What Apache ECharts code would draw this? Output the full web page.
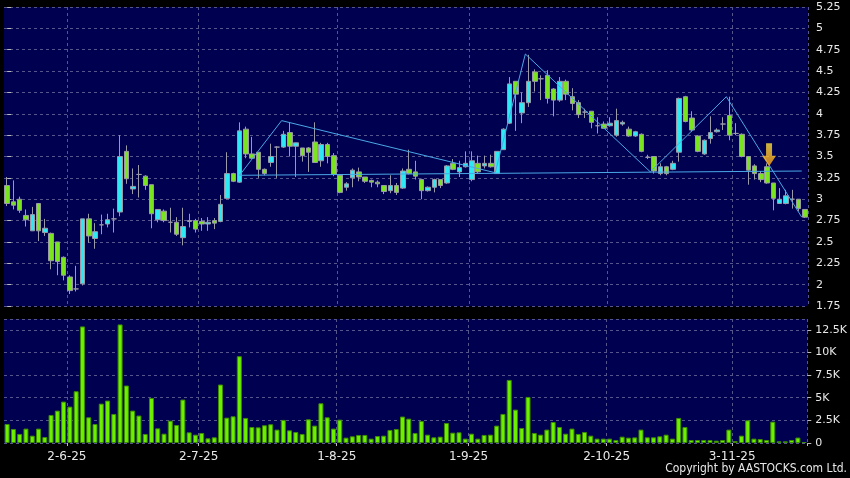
<!DOCTYPE html>
<html>
<head>
<meta charset="utf-8">
<script src="https://cdn.jsdelivr.net/npm/echarts@6/dist/echarts.min.js"></script>
<style>
html,body{margin:0;padding:0;background:#000;}
#chart{width:850px;height:478px;}
</style>
</head>
<body>
<div id="chart"></div>
<script>
// trading dates (d-m-yy)
const dates = [
"19-5-25","20-5-25","21-5-25","22-5-25","23-5-25","26-5-25","27-5-25","28-5-25","29-5-25","30-5-25",
"2-6-25","3-6-25","4-6-25","5-6-25","6-6-25","9-6-25","10-6-25","11-6-25","12-6-25","13-6-25","16-6-25","17-6-25","18-6-25","19-6-25","20-6-25","23-6-25","24-6-25","25-6-25","26-6-25","27-6-25","30-6-25",
"2-7-25","3-7-25","4-7-25","7-7-25","8-7-25","9-7-25","10-7-25","11-7-25","14-7-25","15-7-25","16-7-25","17-7-25","18-7-25","21-7-25","22-7-25","23-7-25","24-7-25","25-7-25","28-7-25","29-7-25","30-7-25","31-7-25",
"1-8-25","4-8-25","5-8-25","6-8-25","7-8-25","8-8-25","11-8-25","12-8-25","13-8-25","14-8-25","15-8-25","18-8-25","19-8-25","20-8-25","21-8-25","22-8-25","25-8-25","26-8-25","27-8-25","28-8-25","29-8-25",
"1-9-25","2-9-25","3-9-25","4-9-25","5-9-25","8-9-25","9-9-25","10-9-25","11-9-25","12-9-25","15-9-25","16-9-25","17-9-25","18-9-25","19-9-25","22-9-25","23-9-25","24-9-25","25-9-25","26-9-25","29-9-25","30-9-25",
"2-10-25","3-10-25","6-10-25","8-10-25","9-10-25","10-10-25","13-10-25","14-10-25","15-10-25","16-10-25","17-10-25","20-10-25","21-10-25","22-10-25","23-10-25","24-10-25","27-10-25","28-10-25","30-10-25","31-10-25",
"3-11-25","4-11-25","5-11-25","6-11-25","7-11-25","10-11-25","11-11-25","12-11-25","13-11-25","14-11-25","17-11-25","18-11-25"
];
const opens = [3.16,2.97,3.00,2.81,2.63,2.95,2.61,2.60,2.50,2.32,2.09,1.95,2.01,2.77,2.54,2.70,2.71,2.77,2.85,3.56,3.12,3.29,
3.27,3.17,2.76,2.86,2.73,2.73,2.55,2.74,2.75,2.74,2.71,2.75,2.74,3.01,3.30,3.20,3.82,3.53,3.55,3.35,3.43,
3.61,3.61,3.78,3.62,3.60,3.60,3.67,3.45,3.64,3.51,3.28,3.14,3.25,3.32,3.26,3.22,3.20,3.16,3.10,3.16,3.13,
3.35,3.32,3.23,3.10,3.14,3.23,3.19,3.42,3.32,3.38,3.23,3.42,3.39,3.42,3.30,3.58,3.89,4.38,4.01,4.13,4.49,
4.41,4.45,4.29,4.16,4.38,4.20,4.13,4.02,4.03,3.86,3.88,3.86,3.75,3.88,3.82,3.74,3.76,3.49,3.50,3.30,3.38,
3.35,3.55,4.20,3.95,3.74,3.53,3.71,3.79,3.88,3.98,3.77,3.76,3.50,3.39,3.30,3.38,3.19,2.95,2.95,3.00,3.00,2.88];
const closes = [2.95,2.93,2.87,2.76,2.82,2.63,2.66,2.28,2.27,2.11,1.93,1.95,2.77,2.57,2.62,2.70,2.76,2.77,3.50,3.24,3.15,3.29,
3.16,2.83,2.88,2.75,2.73,2.59,2.68,2.75,2.65,2.71,2.73,2.72,2.94,3.30,3.21,3.80,3.53,3.48,3.35,3.30,3.50,
3.61,3.76,3.62,3.66,3.51,3.55,3.43,3.64,3.50,3.29,3.08,3.18,3.34,3.26,3.21,3.20,3.18,3.09,3.16,3.08,3.33,
3.30,3.27,3.10,3.14,3.23,3.16,3.39,3.35,3.37,3.42,3.45,3.32,3.42,3.38,3.56,3.82,4.35,4.23,4.13,4.38,4.38,
4.41,4.18,4.16,4.38,4.23,4.12,3.99,4.02,3.90,3.86,3.83,3.89,3.92,3.90,3.74,3.79,3.56,3.49,3.33,3.38,3.30,
3.42,4.18,3.91,3.81,3.56,3.69,3.78,3.81,3.88,3.75,3.77,3.50,3.34,3.30,3.23,3.19,3.01,3.00,3.04,3.00,2.89,2.79];
const lows = [2.92,2.88,2.84,2.68,2.63,2.51,2.57,2.18,2.11,2.05,1.89,1.92,1.99,2.49,2.42,2.59,2.67,2.61,2.80,3.18,3.06,3.02,
3.11,2.66,2.73,2.73,2.61,2.57,2.46,2.67,2.61,2.63,2.63,2.65,2.73,3.00,3.20,3.19,3.48,3.47,3.25,3.28,3.38,
3.25,3.60,3.50,3.26,3.44,3.32,3.43,3.38,3.42,3.27,3.07,3.10,3.14,3.21,3.19,3.14,3.14,3.06,3.07,3.05,3.12,
3.29,3.23,3.00,3.09,3.08,3.13,3.18,3.34,3.26,3.37,3.21,3.30,3.36,3.37,3.30,3.58,3.88,3.80,3.89,4.08,4.26,
4.16,4.12,3.97,4.14,4.16,4.04,3.95,3.95,3.83,3.77,3.83,3.85,3.73,3.86,3.73,3.73,3.55,3.47,3.30,3.28,3.28,
3.34,3.44,3.90,3.79,3.55,3.52,3.65,3.78,3.81,3.69,3.75,3.49,3.17,3.23,3.20,3.18,2.87,2.95,2.94,2.89,2.86,2.78];
const highs = [3.26,3.22,3.03,2.88,2.91,2.95,2.77,2.61,2.50,2.33,2.11,2.22,2.77,2.83,2.72,2.82,2.83,2.89,3.75,3.63,3.36,3.40,
3.28,3.17,2.88,2.88,2.90,2.79,2.90,2.83,2.77,2.78,2.79,2.78,3.05,3.55,3.31,3.90,3.85,3.73,3.55,3.36,3.65,
3.62,3.80,3.90,3.66,3.60,3.61,3.90,3.66,3.66,3.54,3.29,3.20,3.36,3.37,3.26,3.23,3.22,3.16,3.28,3.19,3.36,
3.58,3.45,3.24,3.15,3.24,3.23,3.40,3.47,3.45,3.56,3.56,3.51,3.51,3.52,3.56,3.83,4.43,4.38,4.25,4.69,4.52,
4.45,4.51,4.30,4.43,4.40,4.30,4.16,4.06,4.03,3.96,3.91,3.96,4.06,3.92,3.85,3.80,3.77,3.52,3.50,3.42,3.39,
3.45,4.19,4.21,4.03,3.75,3.70,3.97,3.83,3.96,4.20,3.89,3.77,3.50,3.41,3.33,3.42,3.19,3.13,3.11,3.11,3.00,2.88];
const volumes = [2100,1550,1000,1590,810,1590,660,3100,3580,4575,4020,5720,12880,2840,2100,4350,4690,3210,13100,6350,3580,3030,
1000,4980,1620,1030,2470,1990,4800,1180,920,1110,520,630,6460,2800,2950,9590,2770,1770,1730,1960,2070,
1480,2550,1400,1220,1000,2620,1920,4390,2840,1590,2580,590,740,890,890,480,770,810,1440,1550,2920,
2690,1110,2440,920,630,700,2210,1140,1180,480,1030,480,890,920,1920,3210,6970,3690,1660,5090,1110,
920,1480,2320,1770,1030,1590,1000,1220,810,480,480,480,330,700,590,620,1480,630,630,740,920,
480,2770,1770,330,330,330,330,260,330,1480,220,810,2510,480,440,330,2360,185,185,330,600,110];
// pattern lines drawn on the chart (bar position, price)
const zigzagX = [37, 43.7, 77.7, 82.5, 102.4, 114.5, 126.5];
const zigzagY = [3.28, 3.92, 3.31, 4.70, 3.32, 4.20, 2.79];
const necklineX = [37, 126.5];
const necklineY = [3.28, 3.33];
const arrowPos = [121.3, 3.52];
const priceTicks = {min: 1.75, max: 5.25, step: 0.25};
const volTicks = {min: 0, max: 13700, step: 2500};

const candleData = opens.map((o, i) => [o, closes[i], lows[i], highs[i]]);
const monthOf = s => s.split('-')[1];
const isMonthStart = (idx) => idx > 0 && monthOf(dates[idx]) !== monthOf(dates[idx - 1]);

const gridLine = {show: true, lineStyle: {color: '#56568c', type: [3, 3], width: 1}};
const chart = echarts.init(document.getElementById('chart'), null, {renderer: 'canvas'});
chart.setOption({
  backgroundColor: '#000000',
  animation: false,
  grid: [
    {left: 4, top: 7, width: 804, height: 299, show: true, backgroundColor: '#000050', borderWidth: 0},
    {left: 4, top: 319, width: 804, height: 124, show: true, backgroundColor: '#000050', borderWidth: 0}
  ],
  xAxis: [
    {type: 'category', gridIndex: 0, data: dates, boundaryGap: true,
     axisLine: {show: false}, axisTick: {show: false}, axisLabel: {show: false},
     splitLine: Object.assign({interval: isMonthStart}, gridLine)},
    {type: 'category', gridIndex: 1, data: dates, boundaryGap: true,
     axisLine: {show: false},
     axisTick: {show: true, interval: isMonthStart, length: 3, lineStyle: {color: '#bbbbbb'}},
     axisLabel: {show: true, interval: isMonthStart, color: '#e8e8e8', fontFamily: 'DejaVu Sans', fontSize: 12, margin: 8, padding: [0, 6, 0, 0]},
     splitLine: Object.assign({interval: isMonthStart}, gridLine)},
    {type: 'value', gridIndex: 0, min: -0.5, max: dates.length - 0.5, show: false}
  ],
  yAxis: [
    {type: 'value', gridIndex: 0, position: 'right', min: priceTicks.min, max: priceTicks.max, interval: priceTicks.step,
     axisLine: {show: false}, axisTick: {show: true, length: 4, lineStyle: {color: '#bbbbbb'}},
     axisLabel: {color: '#e8e8e8', fontFamily: 'DejaVu Sans', fontSize: 11, margin: 8,
       formatter: v => String(+v.toFixed(2))},
     splitLine: gridLine},
    {type: 'value', gridIndex: 1, position: 'right', min: volTicks.min, max: volTicks.max, interval: volTicks.step,
     axisLine: {show: false}, axisTick: {show: true, length: 4, lineStyle: {color: '#bbbbbb'}},
     axisLabel: {color: '#e8e8e8', fontFamily: 'DejaVu Sans', fontSize: 11, margin: 8, showMaxLabel: false,
       formatter: v => v === 0 ? '0' : (v % volTicks.step === 0 ? (v / 1000) + 'K' : '')},
     splitLine: gridLine}
  ],
  series: [
    {type: 'candlestick', xAxisIndex: 0, yAxisIndex: 0, data: candleData, barWidth: 5,
     itemStyle: {color: '#2ee8f4', color0: '#7ae41e', borderColor: '#9a9aa8', borderColor0: '#9a9aa8', borderColorDoji: '#9a9aa8', borderWidth: 1}},
    {type: 'bar', xAxisIndex: 1, yAxisIndex: 1, data: volumes, barWidth: 5,
     itemStyle: {color: '#6cf000', borderColor: '#3d8c00', borderWidth: 1}},
    {type: 'line', xAxisIndex: 2, yAxisIndex: 0, data: zigzagX.map((x, i) => [x, zigzagY[i]]),
     symbol: 'none', lineStyle: {color: '#4aa8e6', width: 1}, z: 5},
    {type: 'line', xAxisIndex: 2, yAxisIndex: 0, data: necklineX.map((x, i) => [x, necklineY[i]]),
     symbol: 'none', lineStyle: {color: '#4aa8e6', width: 1}, z: 5},
    {type: 'scatter', xAxisIndex: 2, yAxisIndex: 0, data: [arrowPos],
     symbol: 'path://M4,0 L10,0 L10,12 L14,12 L7,22 L0,12 L4,12 Z', symbolSize: [14, 23],
     itemStyle: {color: new echarts.graphic.LinearGradient(0, 0, 0, 1, [{offset: 0, color: '#ffe040'}, {offset: 1, color: '#ffa010'}])}, z: 6}
  ],
  graphic: [
    {type: 'text', right: 3, top: 463, style: {text: 'Copyright by AASTOCKS.com Ltd.', fill: '#e8e8e8', font: '12px "DejaVu Sans Condensed", "Liberation Sans Narrow", "Liberation Sans", sans-serif'}}
  ]
});
</script>
</body>
</html>
